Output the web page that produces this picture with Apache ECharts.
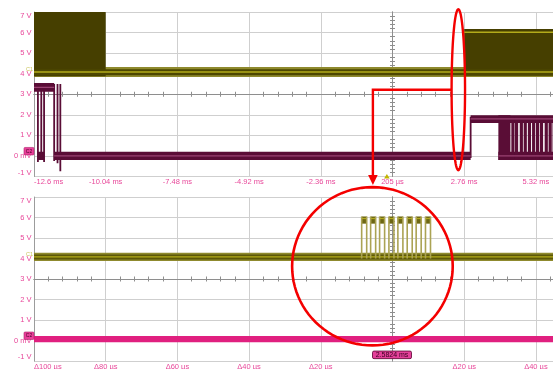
<!DOCTYPE html>
<html>
<head>
<meta charset="utf-8">
<script src="https://cdn.jsdelivr.net/npm/echarts@6/dist/echarts.min.js"></script>
<style>
  html, body { margin: 0; padding: 0; background: #fff; }
  #chart { width: 553px; height: 369px; }
</style>
</head>
<body>
<div id="chart"></div>
<script>
// top trace: 2.56 ms/div centred on 0.2 ms; bottom trace: zoom, 20 us/div
const TOP_CENTER_MS = 0.2;
const TOP_MS_PER_DIV = 2.56;
const toTop = t => (t - TOP_CENTER_MS) / TOP_MS_PER_DIV;

const topTimeLabels = ['-12.6 ms', '-10.04 ms', '-7.48 ms', '-4.92 ms', '-2.36 ms', '205 µs',
  '2.76 ms', '5.32 ms', '7.88 ms', '10.44 ms', '12.99 ms'];
const zoomCenterLabel = '2.5824 ms';
const triggerMs = 0;

// C1 (top), [t0 ms, t1 ms, vLow, vHigh]
const c1TopHalo = [[-12.6, 13, 3.84, 4.32]];
const c1TopBlocks = [[-12.6, -10.04, 3.88, 7], [2.76, 13, 3.9, 6.17]];
const c1TopCore = [[-12.6, 13, 3.93, 4.22]];
// [t0, t1, v]
const c1TopStripes = [[-12.6, 13, 4.08], [2.76, 13, 6.02]];

// C2 (top)
const c2TopBands = [[-12.6, -11.88, 3.12, 3.55], [-12.46, -12.24, -0.2, 0.2], [-11.88, 2.99, -0.2, 0.2],
  [2.99, 13, 1.6, 1.98], [3.98, 13, -0.2, 0.2], [3.98, 4.41, -0.2, 1.98]];
const c2TopStripes = [[-12.6, -11.88, 3.33], [-11.88, 2.99, 0.0], [3.98, 13, 0.0], [2.99, 13, 1.8]];
// [t, vLow, vHigh]
const c2TopEdges = [[-12.46, -0.3, 3.5], [-12.34, -0.2, 3.5], [-12.24, -0.3, 3.5], [-11.88, -0.25, 3.5],
  [-11.76, -0.35, 3.5], [-11.66, -0.75, 3.5], [2.99, -0.1, 1.9]];
const c2ToggleTimes = [4.50, 4.63, 4.80, 4.94, 5.09, 5.24, 5.38, 5.52, 5.69, 5.83, 5.97];

// zoom (bottom), x in us from centre
const c1ZoomHalo = [[-100, 100, 3.88, 4.28]];
const c1ZoomCore = [[-100, 100, 3.95, 4.2]];
const c1ZoomStripe = [[-100, 100, 4.08]];
const pulseRise = [-8.6, -6.1, -3.6, -1.0, 1.5, 4.1, 6.6, 9.2];
const pulseFall = [-7.2, -4.7, -2.2, 0.4, 2.9, 5.5, 8.0, 10.6];
const pulseLow = 4.0;
const pulseHigh = [5.7, 6.05];
const c2ZoomBand = [[-100, 100, -0.08, 0.22]];

// red markings, in data units
const ellipseTop = { t: 2.55, v: 3.22, rt: 0.24, rv: 3.91 };
const arrowTop = { t: -0.5, tipV: -1.41 };
const circleZoom = { us: -5.6, v: 3.62, rus: 22.4, rv: 3.86 };

const PINK = '#e8489a';
const FONT = 'Liberation Sans, Arial, sans-serif';

const chart = echarts.init(document.getElementById('chart'));

function band(grid, items, fill, z) {
  return {
    type: 'custom', xAxisIndex: grid, yAxisIndex: grid, clip: true, silent: true, z: z || 2,
    data: items,
    renderItem: (params, api) => {
      const a = api.coord([api.value(0), api.value(3)]);
      const b = api.coord([api.value(1), api.value(2)]);
      return { type: 'rect', shape: { x: a[0], y: a[1], width: b[0] - a[0], height: b[1] - a[1] }, style: { fill } };
    }
  };
}

function hline(grid, items, stroke, width, z) {
  return {
    type: 'custom', xAxisIndex: grid, yAxisIndex: grid, clip: true, silent: true, z: z || 3,
    data: items,
    renderItem: (params, api) => {
      const a = api.coord([api.value(0), api.value(2)]);
      const b = api.coord([api.value(1), api.value(2)]);
      return { type: 'line', shape: { x1: a[0], y1: a[1], x2: b[0], y2: b[1] }, style: { stroke, lineWidth: width } };
    }
  };
}

function vline(grid, items, stroke, width, z) {
  return {
    type: 'custom', xAxisIndex: grid, yAxisIndex: grid, clip: true, silent: true, z: z || 3,
    data: items,
    renderItem: (params, api) => {
      const a = api.coord([api.value(0), api.value(1)]);
      const b = api.coord([api.value(0), api.value(2)]);
      return { type: 'line', shape: { x1: a[0], y1: a[1], x2: b[0], y2: b[1] }, style: { stroke, lineWidth: width } };
    }
  };
}

const topRow = r => [toTop(r[0]), toTop(r[1]), r[2], r[3]];
const topLine = r => [toTop(r[0]), toTop(r[1]), r[2]];
const topEdge = r => [toTop(r[0]), r[1], r[2]];

const labelStyle = { color: PINK, fontSize: 7.5, fontFamily: FONT };

function mainX(grid, min, max, interval, fmt, margin) {
  return {
    type: 'value', gridIndex: grid, min, max, interval, position: 'bottom',
    axisLine: { show: false, onZero: false },
    axisTick: { show: false },
    splitLine: { lineStyle: { color: '#cfcfcf', width: 1 } },
    axisLabel: Object.assign({ formatter: fmt, margin, interval: 0, showMinLabel: true, alignMinLabel: 'left' }, labelStyle)
  };
}

function centerX(grid, min, max, interval, inside, half) {
  return {
    type: 'value', gridIndex: grid, min, max, interval, position: 'bottom', offset: -half,
    axisLine: { onZero: false, lineStyle: { color: '#8e8e8e', width: 1 } },
    axisTick: { show: false, inside },
    minorTick: { show: true, splitNumber: 5, length: 2.5, lineStyle: { color: '#8e8e8e' } },
    axisLabel: { show: false }, splitLine: { show: false }
  };
}

function mainY(grid) {
  return {
    type: 'value', gridIndex: grid, min: -1, max: 7, interval: 1, position: 'left',
    axisLine: { show: true, onZero: false, lineStyle: { color: '#9c9c9c' } },
    axisTick: { show: false },
    splitLine: { lineStyle: { color: '#cfcfcf', width: 1 } },
    axisLabel: Object.assign({
      formatter: v => (v === 0 ? '0 mV' : v + ' V'), margin: 2.5,
      verticalAlignMaxLabel: 'top', verticalAlignMinLabel: 'bottom'
    }, labelStyle)
  };
}

function centerY(grid, inside, half) {
  return {
    type: 'value', gridIndex: grid, min: -1, max: 7, interval: 1, position: 'left', offset: -half,
    axisLine: { show: true, onZero: false, lineStyle: { color: '#8e8e8e', width: 1 } },
    axisTick: { show: false, inside },
    minorTick: { show: true, splitNumber: 5, length: 2.5, lineStyle: { color: '#8e8e8e' } },
    axisLabel: { show: false }, splitLine: { show: false }
  };
}

const GRID_W = 717;

const option = {
  animation: false,
  backgroundColor: '#ffffff',
  grid: [
    { left: 34, top: 12, width: GRID_W, height: 164.5, outerBoundsMode: 'none', containLabel: false },
    { left: 34, top: 197, width: GRID_W, height: 164, outerBoundsMode: 'none', containLabel: false }
  ],
  xAxis: [
    mainX(0, -5, 5, 1, v => topTimeLabels[Math.round(v + 5)], 1.5),
    mainX(1, -100, 100, 20, v => (Math.abs(v) < 1e-6 ? '' : 'Δ' + Math.abs(v) + ' µs'), 2),
    centerX(0, -5, 5, 1, true, 82.25), centerX(0, -5, 5, 1, false, 82.25),
    centerX(1, -100, 100, 20, true, 82), centerX(1, -100, 100, 20, false, 82)
  ],
  yAxis: [
    mainY(0), mainY(1),
    centerY(0, true, GRID_W / 2), centerY(0, false, GRID_W / 2),
    centerY(1, true, GRID_W / 2), centerY(1, false, GRID_W / 2)
  ],
  series: [
    // top C1
    band(0, c1TopHalo.map(topRow), '#8f8a2e', 2),
    band(0, c1TopBlocks.map(topRow), '#463f00', 2),
    band(0, c1TopCore.map(topRow), '#4d4700', 2),
    hline(0, c1TopStripes.map(topLine), '#b3ab1a', 1.5, 3),
    // top C2
    band(0, c2TopBands.map(topRow), '#5a0d36', 4),
    vline(0, c2TopEdges.map(topEdge), '#5a0d36', 1.8, 4),
    vline(0, c2ToggleTimes.map(t => [toTop(t), -0.15, 1.9]), '#5a0d36', 3.2, 4),
    hline(0, c2TopStripes.map(topLine), '#9a4272', 1.2, 5),
    // zoom C1
    band(1, c1ZoomHalo, '#8f8a2e', 2),
    band(1, c1ZoomCore, '#5d5808', 2),
    hline(1, c1ZoomStripe, '#b3ab1a', 1.3, 3),
    band(1, pulseRise.map((r, i) => [r, pulseFall[i], pulseHigh[0], pulseHigh[1]]), '#6d6714', 3),
    hline(1, pulseRise.map((r, i) => [r, pulseFall[i], 5.95]), '#b3ab1a', 1.2, 4),
    vline(1, pulseRise.concat(pulseFall).map(t => [t, pulseLow, pulseHigh[1]]), '#aba354', 1.6, 4),
    // zoom C2
    band(1, c2ZoomBand, '#e0207f', 4)
  ]
};

chart.setOption(option);

function ellipsePoints(c, rx, ry) {
  const pts = [];
  for (let i = 0; i < 96; i++) {
    const a = (i / 96) * Math.PI * 2;
    pts.push([c[0] + rx * Math.cos(a), c[1] + ry * Math.sin(a)]);
  }
  return pts;
}

function buildGraphic() {
  const px = (grid, x, y) => chart.convertToPixel({ xAxisIndex: grid, yAxisIndex: grid }, [x, y]);
  const g = [];
  const RED = '#f40000';

  // channel markers
  [0, 1].forEach(grid => {
    const xMin = grid === 0 ? -5 : -100;
    const c1 = px(grid, xMin, 4.08);
    g.push({ type: 'text', x: c1[0] - 4.5, y: c1[1] - 2.5, z: 20,
      style: { text: 'C1', fill: '#c9c45a', font: '5.5px ' + FONT, align: 'center', verticalAlign: 'middle', textAlign: 'center', textVerticalAlign: 'middle' } });
    const c2 = px(grid, xMin, 0);
    g.push({ type: 'rect', z: 20, shape: { x: c2[0] - 10, y: c2[1] - 8.5, width: 10, height: 7.5, r: 1 },
      style: { fill: '#e8409a', stroke: '#b0206a', lineWidth: 0.6 } });
    g.push({ type: 'text', x: c2[0] - 5, y: c2[1] - 4.7, z: 21,
      style: { text: 'C2', fill: '#4a0028', font: '5px ' + FONT, align: 'center', verticalAlign: 'middle', textAlign: 'center', textVerticalAlign: 'middle' } });
  });

  // trigger marker
  const trg = px(0, toTop(triggerMs), -1);
  g.push({ type: 'polygon', z: 20, shape: { points: [[trg[0] - 2.8, trg[1] + 2], [trg[0] + 2.8, trg[1] + 2], [trg[0], trg[1] - 2.5]] },
    style: { fill: '#c2b400' } });

  // zoom position box
  const zc = px(1, 0, -0.7);
  g.push({ type: 'rect', z: 20, shape: { x: zc[0] - 20, y: zc[1] - 3.8, width: 39, height: 7.6, r: 1.5 },
    style: { fill: '#e4409a', stroke: '#5a0030', lineWidth: 0.8 } });
  g.push({ type: 'text', x: zc[0] - 0.5, y: zc[1], z: 21,
    style: { text: zoomCenterLabel, fill: '#3a0020', font: '7px ' + FONT, align: 'center', verticalAlign: 'middle', textAlign: 'center', textVerticalAlign: 'middle' } });

  // ellipse round the burst on the top trace
  const ec = px(0, toTop(ellipseTop.t), ellipseTop.v);
  const eR = px(0, toTop(ellipseTop.t + ellipseTop.rt), ellipseTop.v);
  const eT = px(0, toTop(ellipseTop.t), ellipseTop.v + ellipseTop.rv);
  const erx = eR[0] - ec[0], ery = ec[1] - eT[1];
  g.push({ type: 'polygon', z: 30, shape: { points: ellipsePoints(ec, erx, ery) },
    style: { fill: 'none', stroke: RED, lineWidth: 2.4 } });

  // connector + arrow
  const corner = px(0, toTop(arrowTop.t), ellipseTop.v);
  const tip = px(0, toTop(arrowTop.t), arrowTop.tipV);
  g.push({ type: 'polyline', z: 30, shape: { points: [[ec[0] - erx, ec[1]], corner, [tip[0], tip[1] - 8]] },
    style: { stroke: RED, lineWidth: 2.4, fill: 'none' } });
  g.push({ type: 'polygon', z: 30, shape: { points: [[tip[0] - 4.8, tip[1] - 10], [tip[0] + 4.8, tip[1] - 10], tip] },
    style: { fill: RED } });

  // circle round the burst on the zoom trace
  const cc = px(1, circleZoom.us, circleZoom.v);
  const cR = px(1, circleZoom.us + circleZoom.rus, circleZoom.v);
  const cT = px(1, circleZoom.us, circleZoom.v + circleZoom.rv);
  g.push({ type: 'polygon', z: 30, shape: { points: ellipsePoints(cc, cR[0] - cc[0], cc[1] - cT[1]) },
    style: { fill: 'none', stroke: RED, lineWidth: 2.6 } });

  return g;
}

chart.setOption({ graphic: buildGraphic() });
</script>
</body>
</html>
